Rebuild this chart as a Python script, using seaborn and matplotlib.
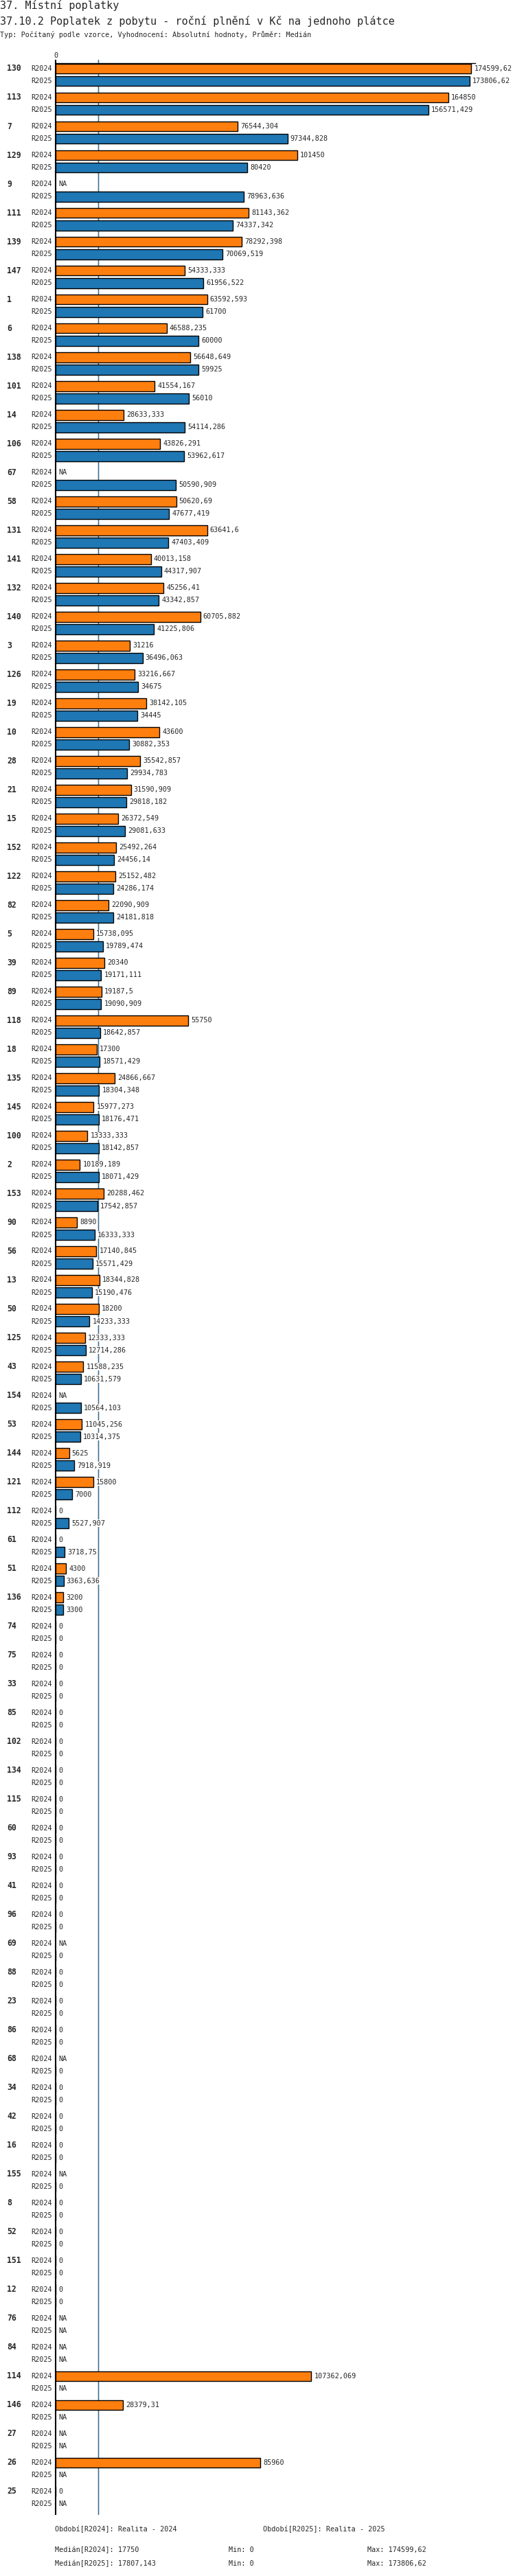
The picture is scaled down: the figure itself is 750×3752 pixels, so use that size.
import matplotlib
matplotlib.use('Agg')
import matplotlib.pyplot as plt
import matplotlib.transforms as mtransforms
from matplotlib import font_manager
import numpy as np
import pandas as pd
import seaborn as sns

NA = np.nan

groups = [
    '130', '113', '7', '129', '9', '111', '139', '147', '1', '6',
    '138', '101', '14', '106', '67', '58', '131', '141', '132', '140',
    '3', '126', '19', '10', '28', '21', '15', '152', '122', '82',
    '5', '39', '89', '118', '18', '135', '145', '100', '2', '153',
    '90', '56', '13', '50', '125', '43', '154', '53', '144', '121',
    '112', '61', '51', '136', '74', '75', '33', '85', '102', '134',
    '115', '60', '93', '41', '96', '69', '88', '23', '86', '68',
    '34', '42', '16', '155', '8', '52', '151', '12', '76', '84',
    '114', '146', '27', '26', '25',
]

r2024 = [
    174599.62, 164850, 76544.304, 101450, NA, 81143.362, 78292.398, 54333.333, 63592.593, 46588.235,
    56648.649, 41554.167, 28633.333, 43826.291, NA, 50620.69, 63641.6, 40013.158, 45256.41, 60705.882,
    31216, 33216.667, 38142.105, 43600, 35542.857, 31590.909, 26372.549, 25492.264, 25152.482, 22090.909,
    15738.095, 20340, 19187.5, 55750, 17300, 24866.667, 15977.273, 13333.333, 10189.189, 20288.462,
    8890, 17140.845, 18344.828, 18200, 12333.333, 11588.235, NA, 11045.256, 5625, 15800,
    0, 0, 4300, 3200, 0, 0, 0, 0, 0, 0,
    0, 0, 0, 0, 0, NA, 0, 0, 0, NA,
    0, 0, 0, NA, 0, 0, 0, 0, NA, NA,
    107362.069, 28379.31, NA, 85960, 0,
]

r2025 = [
    173806.62, 156571.429, 97344.828, 80420, 78963.636, 74337.342, 70069.519, 61956.522, 61700, 60000,
    59925, 56010, 54114.286, 53962.617, 50590.909, 47677.419, 47403.409, 44317.907, 43342.857, 41225.806,
    36496.063, 34675, 34445, 30882.353, 29934.783, 29818.182, 29081.633, 24456.14, 24286.174, 24181.818,
    19789.474, 19171.111, 19090.909, 18642.857, 18571.429, 18304.348, 18176.471, 18142.857, 18071.429, 17542.857,
    16333.333, 15571.429, 15190.476, 14233.333, 12714.286, 10631.579, 10564.103, 10314.375, 7918.919, 7000,
    5527.907, 3718.75, 3363.636, 3300, 0, 0, 0, 0, 0, 0,
    0, 0, 0, 0, 0, 0, 0, 0, 0, 0,
    0, 0, 0, 0, 0, 0, 0, 0, NA, NA,
    NA, NA, NA, NA, NA,
]

periods = ['R2024', 'R2025']
colors = {'R2024': '#ff7f0e', 'R2025': '#1f77b4'}
medians = {'R2024': 17750, 'R2025': 17807.143}

title_1 = '37. Místní poplatky'
title_2 = '37.10.2 Poplatek z pobytu - roční plnění v Kč na jednoho plátce'
subtitle = 'Typ: Počítaný podle vzorce, Vyhodnocení: Absolutní hodnoty, Průměr: Medián'
footer_periods = ['Období[R2024]: Realita - 2024', 'Období[R2025]: Realita - 2025']
footer_stats = [
    ['Medián[R2024]: 17750', 'Min: 0', 'Max: 174599,62'],
    ['Medián[R2025]: 17807,143', 'Min: 0', 'Max: 173806,62'],
]

W, H = 750, 3752
n = len(groups)
df = pd.DataFrame({
    'group': groups * 2,
    'period': ['R2024'] * n + ['R2025'] * n,
    'value': r2024 + r2025,
})

sns.set_theme(style='white')
installed = {f.name for f in font_manager.fontManager.ttflist}
mono = ['DejaVu Sans Mono']
if 'Liberation Sans Narrow' in installed:
    small = ['Liberation Sans Narrow', 'DejaVu Sans']
    small_size = 9.5
else:
    small = ['DejaVu Sans Mono']
    small_size = 7.3
plt.rcParams['font.family'] = small


def fx(px):
    return px / W


def fy(py):
    return 1 - py / H


def fmt(v):
    if np.isnan(v):
        return 'NA'
    s = f'{v:.3f}'.rstrip('0').rstrip('.')
    return s.replace('.', ',')


fig = plt.figure(figsize=(W / 100, H / 100), dpi=100)
ax = fig.add_axes([fx(81), fy(3662), fx(692) - fx(81), fy(92) - fy(3662)])

bar_width = 0.86
sns.barplot(data=df, y='group', x='value', hue='period', order=groups,
            hue_order=periods, palette=colors, saturation=1, orient='h',
            width=bar_width, gap=0.18, errorbar=None, edgecolor='black',
            linewidth=1.0, legend=False, ax=ax, zorder=3)

for p in periods:
    ax.axvline(medians[p], color=colors[p], lw=1, zorder=1,
               ymin=0, ymax=1.0014, clip_on=False)

ax.set_xlim(0, 176200)
ax.set_ylim(n - 1 + 0.571, -0.405)
ax.set_xlabel('')
ax.set_ylabel('')
ax.set_yticks([])
ax.xaxis.tick_top()
ax.set_xticks([0])
ax.set_xticklabels(['0'], family=small, fontsize=small_size)
ax.tick_params(axis='x', length=3.6, width=1.5, pad=1, color='black', top=True, bottom=False)
for side in ['bottom', 'right']:
    ax.spines[side].set_visible(False)
ax.spines['top'].set_color('black')
ax.spines['top'].set_linewidth(1)
ax.spines['left'].set_color('black')
ax.spines['left'].set_linewidth(1.5)
ax.grid(False)

trans = mtransforms.blended_transform_factory(fig.transFigure, ax.transData)
offset = bar_width / 4
for i, g in enumerate(groups):
    vals = [r2024[i], r2025[i]]
    for j, p in enumerate(periods):
        y = i + (j - 0.5) * 2 * offset
        if j == 0:
            fig.text(fx(10), y, g, transform=trans, ha='left', va='center',
                     family=mono, fontweight='bold', fontsize=8.3)
        fig.text(fx(76), y, p, transform=trans, ha='right', va='center',
                 fontsize=small_size)
        v = vals[j]
        xv = 0 if np.isnan(v) else v
        ax.annotate(fmt(v), xy=(xv, y), xytext=(3, 0), textcoords='offset points',
                    ha='left', va='center', fontsize=small_size, zorder=4,
                    annotation_clip=False,
                    bbox=dict(facecolor='white', edgecolor='none', pad=0.3))

fig.text(0, fy(8), title_1, family=mono, fontsize=10.9, va='center', ha='left')
fig.text(0, fy(31), title_2, family=mono, fontsize=10.9, va='center', ha='left')
fig.text(0, fy(51), subtitle, fontsize=small_size, va='center', ha='left')

fig.text(fx(80), fy(3684), footer_periods[0], fontsize=small_size, va='center')
fig.text(fx(383), fy(3684), footer_periods[1], fontsize=small_size, va='center')
for row, yy in zip(footer_stats, [3714, 3734]):
    for txt, xx in zip(row, [80, 333, 535]):
        fig.text(fx(xx), fy(yy), txt, fontsize=small_size, va='center')

fig.savefig('out.png', dpi=100, facecolor='white')
